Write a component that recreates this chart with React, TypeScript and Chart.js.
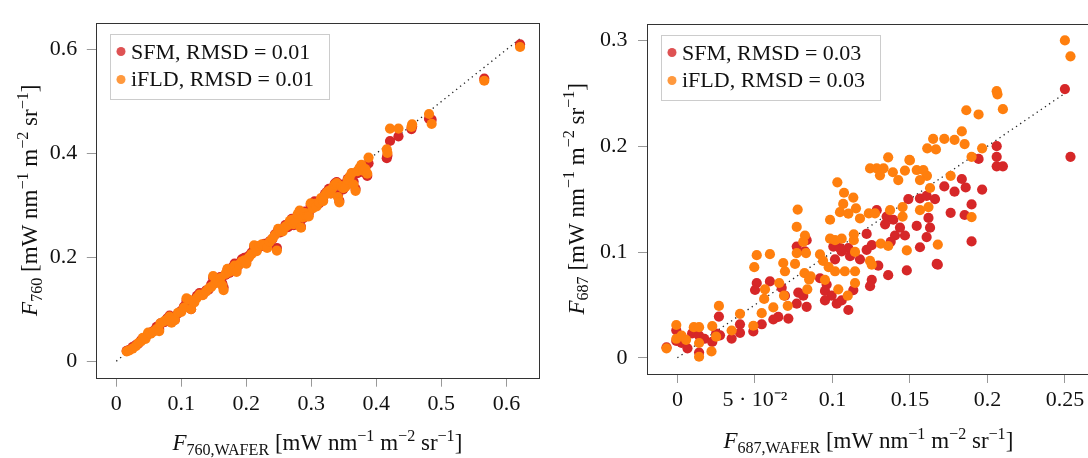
import React, { useEffect, useRef } from "react";
import { Chart, registerables } from "chart.js";

Chart.register(...registerables);

const FONT = '"Liberation Serif", "Times New Roman", serif';
const RED = "#d62728";
const ORANGE = "#ff7f0e";
const TITLE_SIZE = 23;

// ---------------- Left panel: F760 ----------------
const f760Wafer = [
  0.016, 0.020, 0.025, 0.030, 0.034, 0.038, 0.041, 0.045, 0.049, 0.053,
  0.057, 0.062, 0.066, 0.068, 0.074, 0.078, 0.082, 0.085, 0.090, 0.095,
  0.100, 0.104, 0.108, 0.112, 0.115, 0.120, 0.124, 0.128, 0.133, 0.138,
  0.142, 0.146, 0.149, 0.152, 0.156, 0.160, 0.163, 0.165, 0.168, 0.171,
  0.174, 0.178, 0.182, 0.185, 0.189, 0.193, 0.197, 0.200, 0.204, 0.208,
  0.212, 0.216, 0.220, 0.224, 0.228, 0.232, 0.236, 0.240, 0.244, 0.247,
  0.249, 0.252, 0.256, 0.260, 0.264, 0.267, 0.270, 0.273, 0.276, 0.279,
  0.282, 0.284, 0.287, 0.290, 0.293, 0.296, 0.299, 0.302, 0.305, 0.308,
  0.312, 0.315, 0.318, 0.321, 0.324, 0.327, 0.330, 0.333, 0.336, 0.339,
  0.341, 0.343, 0.346, 0.349, 0.352, 0.356, 0.359, 0.362, 0.365, 0.368,
  0.371, 0.374, 0.377, 0.380, 0.383, 0.386, 0.388, 0.416, 0.417, 0.421,
  0.434, 0.454, 0.455, 0.481, 0.485, 0.566, 0.621,
];
const f760Sfm = [
  0.020, 0.022, 0.027, 0.031, 0.034, 0.040, 0.044, 0.046, 0.052, 0.055,
  0.058, 0.066, 0.062, 0.073, 0.075, 0.082, 0.088, 0.079, 0.080, 0.092,
  0.097, 0.105, 0.116, 0.110, 0.100, 0.117, 0.126, 0.131, 0.128, 0.136,
  0.138, 0.148, 0.160, 0.152, 0.158, 0.162, 0.150, 0.142, 0.166, 0.176,
  0.170, 0.180, 0.188, 0.178, 0.186, 0.196, 0.199, 0.192, 0.203, 0.209,
  0.220, 0.214, 0.221, 0.222, 0.226, 0.225, 0.231, 0.235, 0.244, 0.218,
  0.252, 0.248, 0.253, 0.262, 0.258, 0.268, 0.274, 0.262, 0.265, 0.281,
  0.288, 0.259, 0.275, 0.288, 0.282, 0.284, 0.300, 0.296, 0.308, 0.301,
  0.304, 0.311, 0.310, 0.322, 0.326, 0.332, 0.323, 0.330, 0.342, 0.345,
  0.319, 0.309, 0.340, 0.331, 0.337, 0.351, 0.352, 0.361, 0.346, 0.332,
  0.362, 0.370, 0.376, 0.364, 0.372, 0.357, 0.381, 0.391, 0.396, 0.424,
  0.433, 0.447, 0.452, 0.467, 0.465, 0.544, 0.610,
];
const f760Ifld = [
  0.019, 0.021, 0.024, 0.029, 0.035, 0.038, 0.045, 0.043, 0.055, 0.053,
  0.057, 0.062, 0.058, 0.073, 0.077, 0.080, 0.086, 0.074, 0.079, 0.093,
  0.095, 0.103, 0.121, 0.118, 0.100, 0.113, 0.122, 0.128, 0.127, 0.134,
  0.140, 0.143, 0.164, 0.150, 0.155, 0.160, 0.146, 0.137, 0.168, 0.178,
  0.172, 0.176, 0.184, 0.172, 0.186, 0.192, 0.194, 0.188, 0.200, 0.206,
  0.223, 0.212, 0.222, 0.225, 0.223, 0.218, 0.230, 0.236, 0.243, 0.213,
  0.255, 0.250, 0.250, 0.259, 0.262, 0.270, 0.272, 0.264, 0.267, 0.283,
  0.290, 0.257, 0.277, 0.285, 0.279, 0.279, 0.304, 0.294, 0.303, 0.298,
  0.306, 0.314, 0.308, 0.320, 0.325, 0.328, 0.323, 0.334, 0.340, 0.343,
  0.316, 0.306, 0.337, 0.333, 0.335, 0.349, 0.355, 0.362, 0.340, 0.328,
  0.366, 0.372, 0.378, 0.367, 0.370, 0.361, 0.392, 0.408, 0.401, 0.448,
  0.448, 0.451, 0.456, 0.476, 0.457, 0.540, 0.605,
];
const f760XTicks = [0, 0.1, 0.2, 0.3, 0.4, 0.5, 0.6];
const f760XTickLabels = ["0", "0.1", "0.2", "0.3", "0.4", "0.5", "0.6"];
const f760YTicks = [0, 0.2, 0.4, 0.6];
const f760YTickLabels = ["0", "0.2", "0.4", "0.6"];
const f760OneToOne = [0, 0.622];
const f760Legend = ["SFM, RMSD = 0.01", "iFLD, RMSD = 0.01"];

// ---------------- Right panel: F687 ----------------
const f687IfldX = [
  0.250, 0.2536, 0.206, 0.2065, 0.210, 0.1864, 0.1943, 0.1835, 0.1853, 0.1966,
  0.1898, 0.1898, 0.1788, 0.1722, 0.1763, 0.165, 0.1612, 0.1668, 0.168, 0.1497,
  0.161, -0.007, -0.0007, -0.0007, 0.0027, 0.0056, 0.0106, 0.014, 0.014, 0.014,
  0.022, 0.0225, 0.025, 0.0268, 0.136, 0.150, 0.1243, 0.1286, 0.133, 0.1307,
  0.139, 0.1468, 0.1544, 0.1587, 0.1565, 0.1425, 0.163, 0.1032, 0.1075, 0.1135,
  0.107, 0.1049, 0.1103, 0.1152, 0.1178, 0.0985, 0.0776, 0.077, 0.0823, 0.0812,
  0.077, 0.083, 0.0759, 0.082, 0.086, 0.085, 0.0838, 0.0512, 0.0597, 0.0496,
  0.0683, 0.0694, 0.0657, 0.0565, 0.056, 0.0619, 0.0712, 0.0688, 0.0544, 0.0404,
  0.049, 0.035, 0.092, 0.094, 0.0985, 0.1017, 0.106, 0.0976, 0.1017, 0.108,
  0.0952, 0.1038, 0.1099, 0.1138, 0.1138, 0.1146, 0.1146, 0.1146, 0.1243, 0.1254,
  0.1235, 0.1275, 0.1312, 0.136, 0.148, 0.1372, 0.1453, 0.1453, 0.1565, 0.162,
];
const f687IfldY = [
  0.300, 0.285, 0.252, 0.249, 0.235, 0.234, 0.230, 0.214, 0.202, 0.198,
  0.190, 0.133, 0.206, 0.207, 0.172, 0.207, 0.198, 0.197, 0.107, 0.187,
  0.172, 0.009, 0.031, 0.018, 0.021, 0.017, 0.029, 0.029, 0.014, 0.001,
  0.006, 0.030, 0.020, 0.049, 0.1895, 0.1866, 0.179, 0.179, 0.179, 0.1725,
  0.1754, 0.177, 0.1775, 0.1775, 0.168, 0.168, 0.1605, 0.1659, 0.156, 0.1515,
  0.1455, 0.1377, 0.1362, 0.1413, 0.1317, 0.1305, 0.1401, 0.1237, 0.1156, 0.1096,
  0.099, 0.099, 0.0887, 0.080, 0.077, 0.074, 0.0647, 0.097, 0.098, 0.0857,
  0.0896, 0.0818, 0.0707, 0.0647, 0.0557, 0.0476, 0.0491, 0.0587, 0.0422, 0.0416,
  0.0303, 0.0258, 0.0977, 0.0916, 0.1126, 0.1112, 0.1126, 0.0857, 0.0818, 0.0818,
  0.0737, 0.0647, 0.0587, 0.1168, 0.1112, 0.1001, 0.0818, 0.0707, 0.0916, 0.088,
  0.1365, 0.1365, 0.108, 0.1057, 0.1015, 0.1395, 0.1335, 0.1425, 0.1395, 0.1425,
];
const f687SfmX = [
  0.250, 0.2536, 0.206, 0.206, 0.206, 0.210, 0.1943, 0.1835, 0.1966, 0.1898,
  0.1898, 0.1853, 0.186, 0.1788, 0.1722, 0.1763, 0.168, -0.007, -0.0007, -0.0007,
  0.0027, 0.0065, 0.0095, 0.014, 0.014, 0.0174, 0.0225, 0.025, 0.0268, 0.1286,
  0.135, 0.1393, 0.1436, 0.1468, 0.1404, 0.1376, 0.134, 0.149, 0.1565, 0.1608,
  0.1662, 0.1544, 0.162, 0.163, 0.1608, 0.1565, 0.148, 0.1673, 0.1296, 0.136,
  0.1254, 0.1243, 0.1221, 0.1254, 0.1178, 0.1103, 0.106, 0.1017, 0.1114, 0.092,
  0.0963, 0.0952, 0.0995, 0.106, 0.1103, 0.1028, 0.0952, 0.0834, 0.077, 0.078,
  0.0812, 0.0673, 0.0694, 0.0597, 0.0512, 0.0501, 0.0651, 0.0619, 0.0716, 0.0544,
  0.0404, 0.0404, 0.049, 0.0275, 0.035, 0.077, 0.0834, 0.0823, 0.1006, 0.1049,
  0.1221, 0.1135,
];
const f687SfmY = [
  0.254, 0.190, 0.200, 0.190, 0.181, 0.181, 0.188, 0.169, 0.159, 0.145,
  0.110, 0.135, 0.161, 0.157, 0.162, 0.137, 0.088, 0.010, 0.026, 0.016,
  0.014, 0.009, 0.023, 0.021, 0.005, 0.018, 0.015, 0.023, 0.039, 0.1395,
  0.1335, 0.1305, 0.123, 0.1156, 0.1156, 0.1096, 0.1262, 0.150, 0.1506, 0.153,
  0.150, 0.1247, 0.1322, 0.123, 0.1141, 0.1045, 0.0826, 0.0887, 0.0871, 0.0781,
  0.0737, 0.0677, 0.1021, 0.1066, 0.0931, 0.1036, 0.1006, 0.0931, 0.0961, 0.0752,
  0.0692, 0.0632, 0.0587, 0.0542, 0.0452, 0.0512, 0.0542, 0.0482, 0.0512, 0.0617,
  0.0587, 0.0662, 0.0587, 0.0722, 0.0707, 0.0641, 0.0386, 0.0362, 0.0371, 0.0317,
  0.0317, 0.0236, 0.0249, 0.0213, 0.0182, 0.1051, 0.1112, 0.1006, 0.1051, 0.1036,
  0.1171, 0.064,
];
const f687XTicks = [0, 0.05, 0.1, 0.15, 0.2, 0.25];
const f687XTickLabels = ["0", "5 \u00b7 10\u207b\u00b2", "0.1", "0.15", "0.2", "0.25"];
const f687YTicks = [0, 0.1, 0.2, 0.3];
const f687YTickLabels = ["0", "0.1", "0.2", "0.3"];
const f687OneToOne = [0, 0.25];
const f687Legend = ["SFM, RMSD = 0.03", "iFLD, RMSD = 0.03"];

// ---------------- rich text helpers ----------------
type Run = { t: string; it?: boolean; sub?: boolean; sup?: boolean };

function runFont(r: Run, size: number) {
  const s = r.sub || r.sup ? size * 0.7 : size;
  return `${r.it ? "italic " : ""}${s}px ${FONT}`;
}
function runsWidth(ctx: CanvasRenderingContext2D, runs: Run[], size: number) {
  let w = 0;
  for (const r of runs) {
    ctx.font = runFont(r, size);
    w += ctx.measureText(r.t).width;
  }
  return w;
}
function drawRuns(ctx: CanvasRenderingContext2D, runs: Run[], x: number, y: number, size: number) {
  let cx = x;
  for (const r of runs) {
    ctx.font = runFont(r, size);
    const dy = r.sub ? size * 0.2 : r.sup ? -size * 0.4 : 0;
    ctx.fillText(r.t, cx, y + dy);
    cx += ctx.measureText(r.t).width;
  }
}
const unitRuns: Run[] = [
  { t: " [mW nm" }, { t: "\u22121", sup: true }, { t: " m" }, { t: "\u22122", sup: true },
  { t: " sr" }, { t: "\u22121", sup: true }, { t: "]" },
];

type PanelSpec = {
  left: number;
  width: number;
  areaLeft: number;
  areaRight: number;
  areaTop: number;
  areaBottom: number;
  xMin: number; xMax: number; yMin: number; yMax: number;
  xTicks: number[]; xLabels: string[]; yTicks: number[]; yLabels: string[];
  yPad: number;
  sfm: { x: number; y: number }[];
  ifld: { x: number; y: number }[];
  line: number[];
  legend: string[];
  xTitle: Run[]; yTitle: Run[];
  xTitleY: number; yTitleX: number;
};

function decorPlugin(spec: PanelSpec) {
  return {
    id: "decor",
    afterDraw(chart: any) {
      const ctx: CanvasRenderingContext2D = chart.ctx;
      const a = chart.chartArea;
      ctx.save();
      // frame
      ctx.strokeStyle = "#333333";
      ctx.lineWidth = 1;
      ctx.strokeRect(Math.round(a.left) + 0.5, Math.round(a.top) + 0.5,
        Math.round(a.right - a.left), Math.round(a.bottom - a.top));
      // legend
      const bx = Math.round(a.left + 14), by = Math.round(a.top + 11);
      ctx.font = `22px ${FONT}`;
      const tw = Math.max(...spec.legend.map((l) => ctx.measureText(l).width));
      const bw = Math.round(21 + tw + 15), bh = 65;
      ctx.fillStyle = "#ffffff";
      ctx.fillRect(bx, by, bw, bh);
      ctx.strokeStyle = "#cccccc";
      ctx.strokeRect(bx + 0.5, by + 0.5, bw, bh);
      const cols = [RED, ORANGE];
      const rowsM = [17.5, 45.5];
      const rowsT = [24.5, 52.2];
      for (let i = 0; i < 2; i++) {
        ctx.globalAlpha = 0.8;
        ctx.fillStyle = cols[i];
        ctx.beginPath();
        ctx.arc(bx + 11, by + rowsM[i], 4.5, 0, Math.PI * 2);
        ctx.fill();
        ctx.globalAlpha = 1;
        ctx.fillStyle = "#111111";
        ctx.textBaseline = "alphabetic";
        ctx.textAlign = "left";
        ctx.fillText(spec.legend[i], bx + 21, by + rowsT[i]);
      }
      // axis titles
      ctx.fillStyle = "#111111";
      ctx.textAlign = "left";
      ctx.textBaseline = "alphabetic";
      const xw = runsWidth(ctx, spec.xTitle, TITLE_SIZE);
      drawRuns(ctx, spec.xTitle, (a.left + a.right) / 2 - xw / 2, spec.xTitleY, TITLE_SIZE);
      const yw = runsWidth(ctx, spec.yTitle, TITLE_SIZE);
      ctx.translate(spec.yTitleX, (a.top + a.bottom) / 2);
      ctx.rotate(-Math.PI / 2);
      drawRuns(ctx, spec.yTitle, -yw / 2, 0, TITLE_SIZE);
      ctx.restore();
    },
  };
}

function buildConfig(spec: PanelSpec): any {
  const tickFont = { family: FONT, size: 22 };
  return {
    type: "scatter",
    data: {
      datasets: [
        {
          label: spec.legend[1], data: spec.ifld, backgroundColor: ORANGE,
          borderWidth: 0, pointRadius: 5.1, pointHoverRadius: 5.1, order: 0,
        },
        {
          label: spec.legend[0], data: spec.sfm, backgroundColor: RED,
          borderWidth: 0, pointRadius: 5.1, pointHoverRadius: 5.1, order: 1,
        },
        {
          label: "1:1", data: spec.line.map((v) => ({ x: v, y: v })), showLine: true,
          pointRadius: 0, borderColor: "#222222", borderWidth: 1.3,
          borderDash: [1.3, 3.7], order: 2,
        },
      ],
    },
    options: {
      responsive: false,
      animation: false,
      devicePixelRatio: 1,
      layout: { padding: { left: 0, top: spec.areaTop, right: spec.width - spec.areaRight, bottom: 0 } },
      plugins: { legend: { display: false }, tooltip: { enabled: false } },
      events: [],
      scales: {
        x: {
          type: "linear", min: spec.xMin, max: spec.xMax,
          afterFit: (s: any) => { s.height = 458 - spec.areaBottom; },
          afterBuildTicks: (s: any) => { s.ticks = spec.xTicks.map((v) => ({ value: v })); },
          ticks: {
            callback: (_v: any, i: number) => spec.xLabels[i],
            font: tickFont, color: "#111111", padding: 4, maxRotation: 0, autoSkip: false,
          },
          grid: { drawOnChartArea: false, drawTicks: true, tickLength: 9, color: "#999999" },
          border: { display: false },
        },
        y: {
          type: "linear", min: spec.yMin, max: spec.yMax,
          afterFit: (s: any) => { s.width = spec.areaLeft; },
          afterBuildTicks: (s: any) => { s.ticks = spec.yTicks.map((v) => ({ value: v })); },
          ticks: {
            callback: (_v: any, i: number) => spec.yLabels[i],
            font: tickFont, color: "#111111", padding: spec.yPad, autoSkip: false,
          },
          grid: { drawOnChartArea: false, drawTicks: true, tickLength: 9, color: "#999999" },
          border: { display: false },
        },
      },
    },
    plugins: [decorPlugin(spec)],
  };
}

const leftSpec: PanelSpec = {
  left: 0, width: 544,
  areaLeft: 95.8, areaRight: 539.8, areaTop: 8, areaBottom: 377.7,
  xMin: -0.0315, xMax: 0.65, yMin: -0.0318, yMax: 0.6518,
  xTicks: f760XTicks, xLabels: f760XTickLabels, yTicks: f760YTicks, yLabels: f760YTickLabels,
  yPad: 9.5,
  sfm: f760Wafer.map((x, i) => ({ x, y: f760Sfm[i] })),
  ifld: f760Wafer.map((x, i) => ({ x, y: f760Ifld[i] })),
  line: f760OneToOne,
  legend: f760Legend,
  xTitle: [{ t: "F", it: true }, { t: "760,WAFER", sub: true }, ...unitRuns],
  yTitle: [{ t: "F", it: true }, { t: "760", sub: true }, ...unitRuns],
  xTitleY: 450, yTitleX: 37,
};

const rightSpec: PanelSpec = {
  left: 544, width: 560,
  areaLeft: 103, areaRight: 545.7, areaTop: 5.3, areaBottom: 374,
  xMin: -0.0196, xMax: 0.266, yMin: -0.0153, yMax: 0.3158,
  xTicks: f687XTicks, xLabels: f687XTickLabels, yTicks: f687YTicks, yLabels: f687YTickLabels,
  yPad: 10.5,
  sfm: f687SfmX.map((x, i) => ({ x, y: f687SfmY[i] })),
  ifld: f687IfldX.map((x, i) => ({ x, y: f687IfldY[i] })),
  line: f687OneToOne,
  legend: f687Legend,
  xTitle: [{ t: "F", it: true }, { t: "687,WAFER", sub: true }, ...unitRuns],
  yTitle: [{ t: "F", it: true }, { t: "687", sub: true }, ...unitRuns],
  xTitleY: 448, yTitleX: 39.5,
};

function Panel({ spec }: { spec: PanelSpec }) {
  const ref = useRef<HTMLCanvasElement>(null);
  useEffect(() => {
    if (!ref.current) return;
    const chart = new Chart(ref.current, buildConfig(spec));
    return () => chart.destroy();
  }, [spec]);
  return (
    <canvas
      ref={ref}
      width={spec.width}
      height={458}
      style={{ position: "absolute", left: spec.left, top: 0, width: spec.width, height: 458 }}
    />
  );
}

export default function App() {
  return (
    <div
      style={{
        position: "fixed", left: 0, top: 0, width: 1088, height: 458,
        overflow: "hidden", background: "#ffffff",
      }}
    >
      <Panel spec={leftSpec} />
      <Panel spec={rightSpec} />
    </div>
  );
}
